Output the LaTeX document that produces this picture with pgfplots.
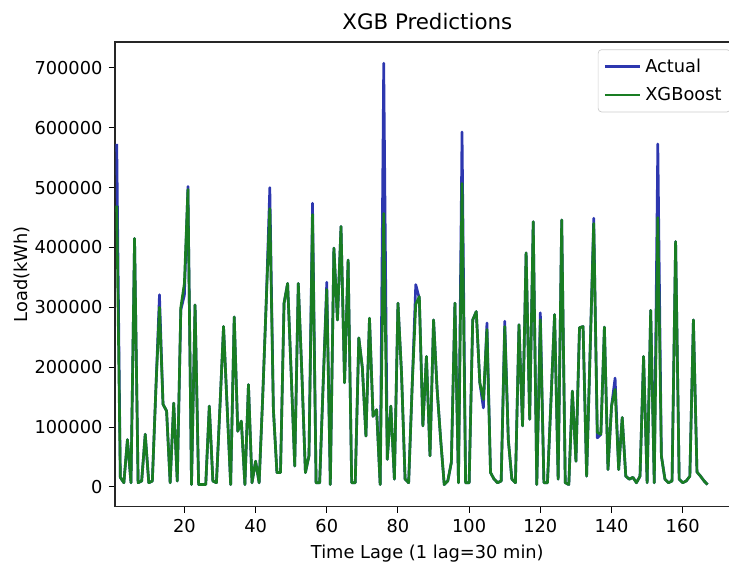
\documentclass[border=0pt]{standalone}
\usepackage{pgfplots}
\usepackage{pgfplotstable}
\pgfplotsset{compat=1.18}
\usepackage{fontspec}
\setmainfont{DejaVu Sans}
\definecolor{actualc}{RGB}{45,55,175}
\definecolor{xgbc}{RGB}{25,125,35}

\pgfplotstableread{
x a g
1 573000 470000
2 16000 16000
3 7000 7000
4 79000 79000
5 7000 7000
6 415000 415000
7 7000 7000
8 10000 10000
9 88000 88000
10 7000 7000
11 10000 10000
12 165000 165000
13 321000 300000
14 138000 138000
15 127000 127000
16 7000 7000
17 140000 140000
18 10000 10000
19 296000 300000
20 320000 340000
21 502000 497000
22 4000 4000
23 304000 304000
24 4000 4000
25 4000 4000
26 4000 4000
27 135000 135000
28 10000 10000
29 7000 7000
30 135000 135000
31 268000 268000
32 135000 135000
33 4000 4000
34 284000 284000
35 93000 93000
36 110000 110000
37 4000 4000
38 171000 171000
39 7000 7000
40 43000 43000
41 7000 7000
42 150000 150000
43 310000 310000
44 500000 465000
45 130000 130000
46 24000 24000
47 24000 24000
48 307000 307000
49 340000 340000
50 190000 190000
51 35000 35000
52 340000 340000
53 190000 190000
54 24000 24000
55 52000 52000
56 474000 455000
57 7000 7000
58 7000 7000
59 174000 174000
60 342000 330000
61 4000 4000
62 399000 399000
63 279000 279000
64 435000 435000
65 174000 174000
66 379000 379000
67 7000 7000
68 7000 7000
69 249000 249000
70 199000 199000
71 85000 85000
72 282000 282000
73 118000 118000
74 129000 129000
75 4000 4000
76 708000 457000
77 46000 46000
78 135000 135000
79 13000 13000
80 307000 307000
81 190000 190000
82 13000 13000
83 7000 7000
84 170000 170000
85 338000 305000
86 315000 318000
87 102000 102000
88 218000 218000
89 52000 52000
90 279000 279000
91 163000 163000
92 79000 79000
93 4000 4000
94 10000 10000
95 41000 41000
96 307000 307000
97 7000 7000
98 593000 507000
99 7000 7000
100 7000 7000
101 279000 279000
102 293000 293000
103 174000 174000
104 132000 146000
105 274000 263000
106 24000 24000
107 13000 13000
108 7000 7000
109 10000 10000
110 277000 268000
111 79000 79000
112 13000 13000
113 7000 7000
114 271000 271000
115 102000 102000
116 391000 391000
117 113000 113000
118 443000 443000
119 4000 4000
120 291000 279000
121 7000 7000
122 7000 7000
123 146000 146000
124 288000 288000
125 13000 13000
126 446000 446000
127 7000 7000
128 4000 4000
129 160000 160000
130 43000 43000
131 266000 266000
132 268000 268000
133 18000 18000
134 230000 230000
135 449000 440000
136 82000 91000
137 88000 88000
138 267000 267000
139 29000 29000
140 135000 135000
141 182000 163000
142 29000 29000
143 116000 116000
144 18000 18000
145 13000 13000
146 16000 16000
147 7000 7000
148 18000 18000
149 218000 218000
150 7000 7000
151 295000 295000
152 7000 7000
153 573000 450000
154 52000 52000
155 13000 13000
156 7000 7000
157 10000 10000
158 410000 410000
159 13000 13000
160 7000 7000
161 10000 10000
162 18000 18000
163 279000 279000
164 25000 25000
165 18000 18000
166 10000 10000
167 4000 4000
}\datatable

\begin{document}
\begin{tikzpicture}[trim right=345pt]
\begin{axis}[
  scale only axis, width=351pt, height=261pt,
  xmin=0.5, xmax=176, ymin=-33000, ymax=743000,
  xtick={20,40,...,160},
  ytick={0,100000,200000,300000,400000,500000,600000,700000},
  scaled y ticks=false,
  yticklabel style={/pgf/number format/fixed, /pgf/number format/1000 sep={}},
  /pgf/number format/assume math mode=true,
  tick pos=left, tick align=outside, major tick length=3.5pt,
  tick style={black, line width=0.6pt},
  axis line style={black!85, line width=0.8pt},
  title={XGB Predictions},
  title style={font=\fontsize{12}{14}\selectfont, yshift=-2.5pt},
  xlabel={Time Lage (1 lag=30 min)},
  ylabel={Load(kWh)},
  ylabel shift=-4pt,
  legend cell align=left,
  legend style={at={(rel axis cs:1,1)}, anchor=north east, xshift=-5pt, yshift=-4pt,
    draw=black!20, rounded corners=2pt, row sep=3pt, inner sep=3pt,
    fill=white, font=\fontsize{10}{12}\selectfont},
  legend image code/.code={\draw[#1] (0pt,0pt) -- (20pt,0pt);},
]
\addplot[actualc, line width=1.5pt, line join=round] table[x=x,y=a]{\datatable};
\addlegendentry{Actual}
\addplot[xgbc, line width=1.5pt, line join=round] table[x=x,y=g]{\datatable};
\addlegendentry{XGBoost}
\end{axis}
\path (-64.6pt,-30.3pt) rectangle (300pt,284.7pt);
\end{tikzpicture}
\end{document}
